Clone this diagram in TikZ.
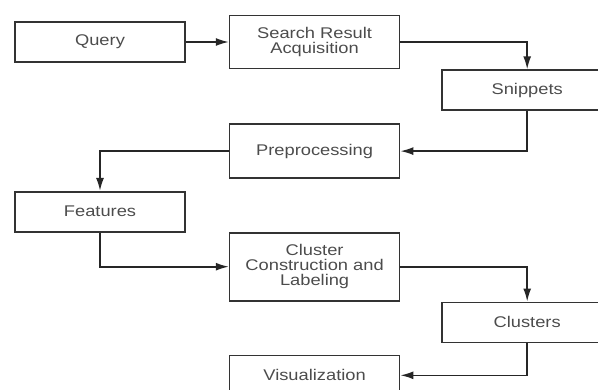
\documentclass[tikz,border=0pt]{standalone}
\usepackage{fontspec}
\setmainfont[FakeStretch=1.18]{Liberation Sans}
\usetikzlibrary{arrows.meta,positioning}
\tikzset{
    %Define standard arrow tip
    >={Latex[length=13pt,width=8pt]},
    %Define style for boxes
    stage/.style={
           rectangle,
           draw=black!80, line width=1.6pt,
           minimum width=170pt,
           minimum height=40pt,
           inner sep=0pt,
           font=\fontsize{15.5}{15}\selectfont,
           text=black!70,
           align=center},
    % Define arrow style
    pil/.style={
           ->,
           line width=1.6pt,
           black!85},
    hv/.style={to path={-| (\tikztotarget)}},
    vh/.style={to path={|- (\tikztotarget)}}
}
\begin{document}
\begin{tikzpicture}[x=1pt,y=-1pt]
\useasboundingbox (0,0) rectangle (598,389);
\clip (0,0) rectangle (598,389);

 %nodes
\node[stage] (query) at (100,42) {Query};
\node[stage, minimum height=53pt, right=43pt of query] (acq) {Search Result\\Acquisition};
\node[stage, below right=0pt and 41pt of acq] (snip) {Snippets};
\node[stage, minimum height=54pt, below=54pt of acq] (prep) {Preprocessing};
\node[stage, below left=12pt and 43pt of prep] (feat) {Features};
\node[stage, minimum height=68pt, below=53pt of prep] (clus) {Cluster\\Construction and\\Labeling};
\node[stage, below right=0pt and 41pt of clus] (clusters) {Clusters};
\node[stage, below=53pt of clus] (vis) {Visualization};

 %edges
\path[pil]
    (query) edge (acq)
    (acq.east) edge[hv] (snip.north)
    (snip.south) edge[vh] (prep.east)
    (prep.west) edge[hv] (feat.north)
    (feat.south) edge[vh] (clus.west)
    (clus.east) edge[hv] (clusters.north)
    (clusters.south) edge[vh] (vis.east);

\end{tikzpicture}
\end{document}
